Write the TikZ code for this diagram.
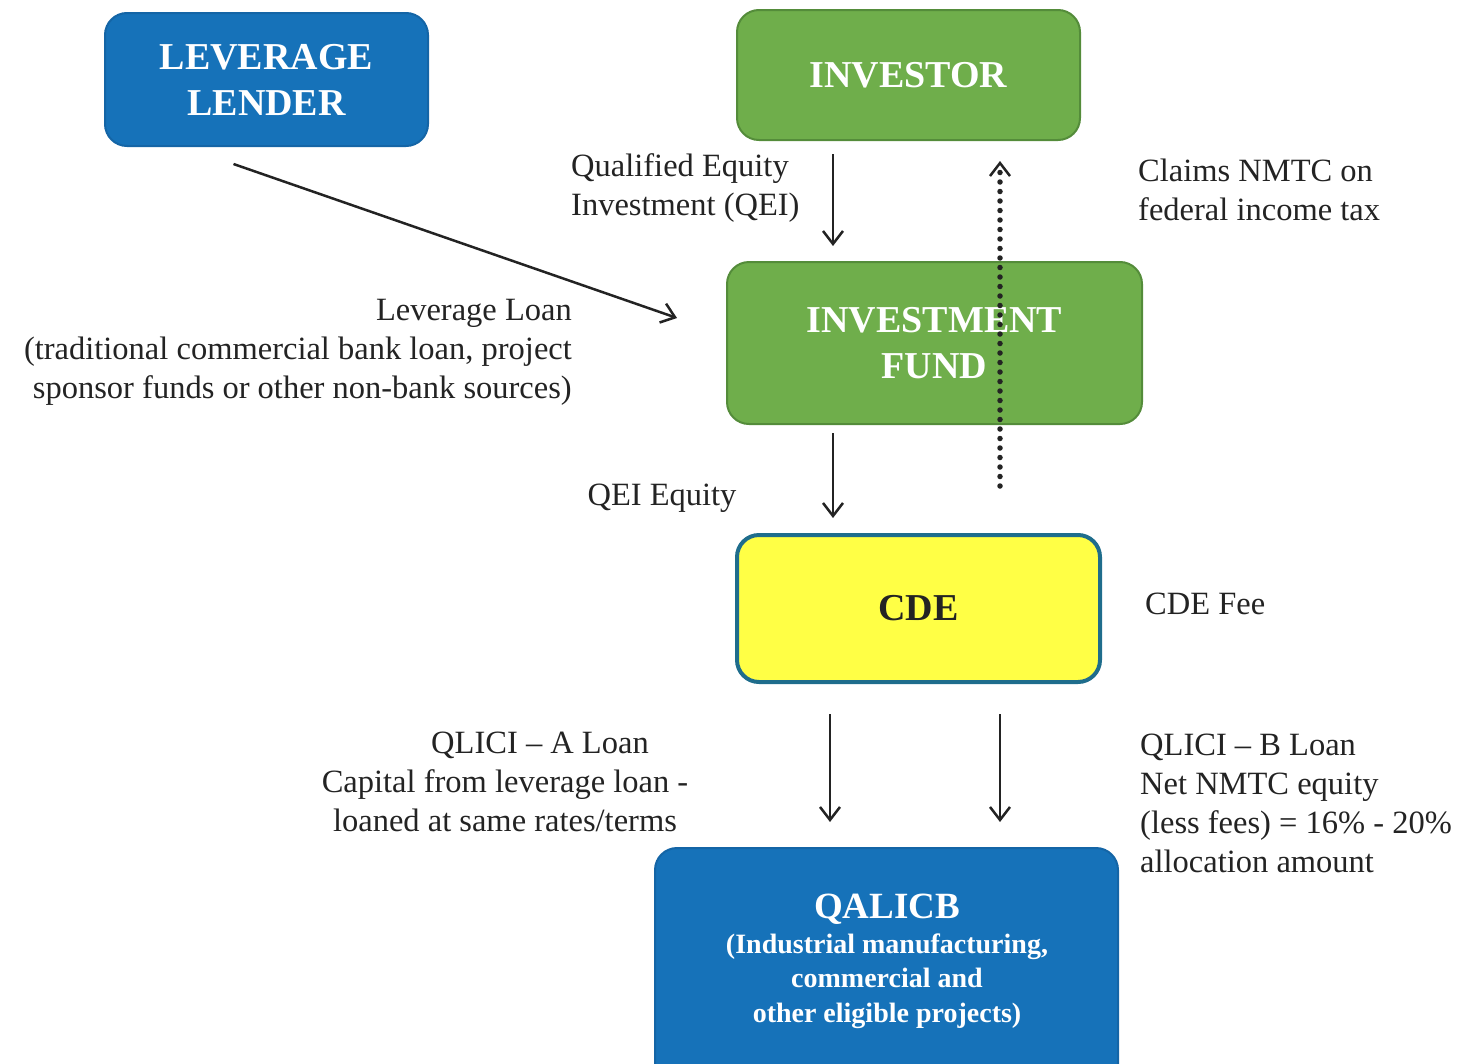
\documentclass[tikz,border=0pt]{standalone}
\usepackage{fontspec}
\setmainfont{Liberation Serif}
\usepackage{xcolor}
\usetikzlibrary{arrows.meta,positioning}
\definecolor{nmblue}{HTML}{1672B9}
\definecolor{nmblueline}{HTML}{1465A6}
\definecolor{nmgreen}{HTML}{6FAE4B}
\definecolor{nmgreenline}{HTML}{548C3A}
\definecolor{nmyellow}{HTML}{FFFF45}
\definecolor{nmteal}{HTML}{1F6D8C}
\definecolor{nmink}{HTML}{232323}
\tikzset{
  entity/.style={rounded corners=22pt,line width=2pt,align=center,text=white,
    font=\fontsize{38}{46}\selectfont\bfseries},
  lbl/.style={inner sep=0pt,text=nmink,font=\fontsize{32.5}{39}\selectfont},
  flow/.style={draw=nmink,line width=2.5pt,-{Straight Barb[length=13pt,width=20pt,line width=2.5pt]}},
}

\begin{document}
\begin{tikzpicture}[x=1pt,y=-1pt]
\useasboundingbox (0,0) rectangle (1459,1063);
% boxes
\node[entity,fill=nmblue,draw=nmblueline,minimum width=323pt,minimum height=133pt]
  (lender) at (266.5,79.5) {LEVERAGE\\LENDER};
\node[entity,fill=nmgreen,draw=nmgreenline,minimum width=343pt,minimum height=130pt]
  (investor) at (908.5,75) {INVESTOR};
\node[entity,fill=nmgreen,draw=nmgreenline,minimum width=415pt,minimum height=162pt]
  (fund) at (934.5,343) {INVESTMENT\\FUND};
\node[entity,fill=nmyellow,draw=nmteal,line width=4pt,text=nmink,minimum width=363pt,minimum height=147pt]
  (cde) at (918.5,608.5) {CDE};
\node[entity,fill=nmblue,draw=nmblueline,minimum width=463pt,minimum height=250pt,anchor=north]
  (qalicb) at (886.5,847) {};
\node[align=center,text=white,font=\fontsize{37}{42}\selectfont\bfseries,inner sep=0pt]
  (qtitle) at (887,909) {QALICB};
\node[align=center,text=white,font=\fontsize{28}{34.5}\selectfont\bfseries,inner sep=0pt,below=9pt of qtitle]
  (qsub) {(Industrial manufacturing,\\commercial and\\other eligible projects)};

% labels
\node[lbl,align=left,anchor=west] (qeilbl) at (571,188) {Qualified Equity\\Investment (QEI)};
\node[lbl,align=left,anchor=west] (claimlbl) at (1138,190) {Claims NMTC on\\federal income tax};
\node[lbl,align=right,anchor=east] (levlbl) at (572,352)
  {Leverage Loan\\(traditional commercial bank loan, project\\sponsor funds or other non-bank sources)};
\node[lbl] (eqlbl) at (662,498) {QEI Equity};
\node[lbl,anchor=west] (feelbl) at (1145,604) {CDE Fee};
\node[lbl,align=center] (albl) at (505,782)
  {\hspace*{70pt}QLICI -- A Loan\\Capital from leverage loan -\\loaned at same rates/terms};
\node[lbl,align=left,anchor=west] (blbl) at (1140,803)
  {QLICI -- B Loan\\Net NMTC equity\\(less fees) = 16\% - 20\%\\allocation amount};

% connectors
\coordinate (qx) at (833,0);
\coordinate (dx) at (1000,0);
\coordinate (bx) at (1000,0);
\coordinate (ax) at (830,0);
\draw[flow] ([xshift=-33pt,yshift=-17pt]lender.south) -- ([xshift=-49pt,yshift=25pt]fund.west);
\draw[flow,shorten <=13pt,shorten >=15pt] (investor.south -| qx) -- (fund.north -| qx);
\draw[flow,shorten <=8pt,shorten >=15pt] (fund.south -| qx) -- (cde.north -| qx);
\draw[flow,line width=5.5pt,line cap=round,dash pattern=on 0pt off 9.5pt,shorten >=20pt]
  ([yshift=-61pt]fund.south -| dx) -- (investor.south -| dx);
\draw[flow,shorten <=30pt,shorten >=25pt] (cde.south -| ax) -- (qalicb.north -| ax);
\draw[flow,shorten <=30pt,shorten >=25pt] (cde.south -| bx) -- (qalicb.north -| bx);
\end{tikzpicture}
\end{document}
